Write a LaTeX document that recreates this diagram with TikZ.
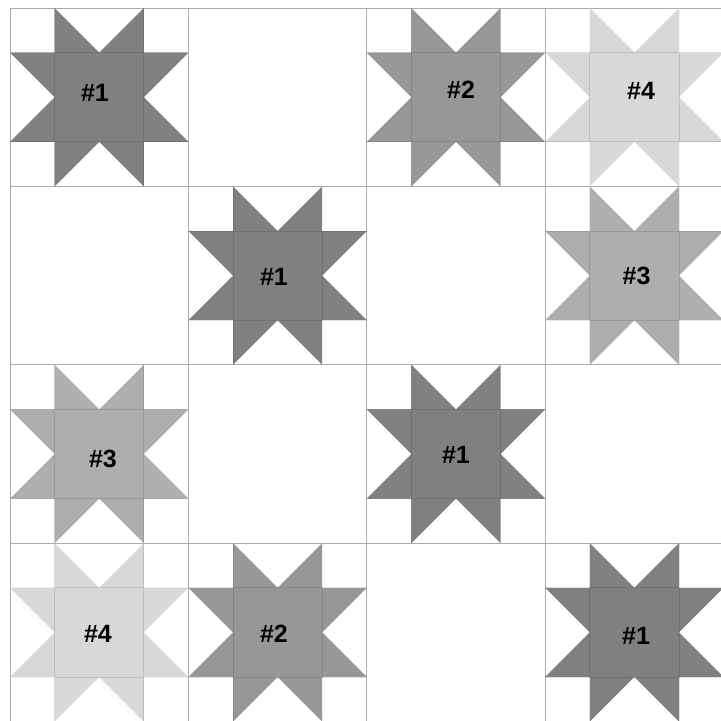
\documentclass[tikz,border=0pt]{standalone}
\usepackage{fontspec}
\setmainfont{Liberation Sans}
\definecolor{cA}{RGB}{128,128,128}
\definecolor{cB}{RGB}{151,151,151}
\definecolor{cC}{RGB}{174,174,174}
\definecolor{cD}{RGB}{216,216,216}
\definecolor{gridc}{RGB}{172,172,172}
\newcommand\qstar[3]{%
  \begin{scope}[shift={(10+#1*178.4,8+#2*178.4)}, x=44.6pt, y=-44.6pt]
    \path[fill=#3] (1,0)--(2,1)--(3,0)--(3,1)--(4,1)--(3,2)--(4,3)--(3,3)--(3,4)--(2,3)--(1,4)--(1,3)--(0,3)--(1,2)--(0,1)--(1,1)--cycle;
    \begin{scope}
      \clip (1,0)--(2,1)--(3,0)--(3,1)--(4,1)--(3,2)--(4,3)--(3,3)--(3,4)--(2,3)--(1,4)--(1,3)--(0,3)--(1,2)--(0,1)--(1,1)--cycle;
      \draw[#3!88!black, line width=0.8pt] (1,0)--(1,4) (3,0)--(3,4) (0,1)--(4,1) (0,3)--(4,3);
    \end{scope}
  \end{scope}}
\tikzset{lbl/.style={font=\bfseries\fontsize{25}{30}\selectfont, text=black, inner sep=0pt}}
\begin{document}
\begin{tikzpicture}[x=1pt, y=-1pt]
  \useasboundingbox (0,0) rectangle (721,721);
  \clip (0,0) rectangle (721,721);
  \fill[white] (0,0) rectangle (721,721);
  % grid
  \foreach \i in {0,1,2,3} {
    \draw[gridc, line width=0.8pt] (10+\i*178.4,8) -- (10+\i*178.4,721);
    \draw[gridc, line width=0.8pt] (10,8+\i*178.4) -- (721,8+\i*178.4);
  }
  % stars: col,row,color
  \qstar{0}{0}{cA}
  \qstar{2}{0}{cB}
  \qstar{3}{0}{cD}
  \qstar{1}{1}{cA}
  \qstar{3}{1}{cC}
  \qstar{0}{2}{cC}
  \qstar{2}{2}{cA}
  \qstar{0}{3}{cD}
  \qstar{1}{3}{cB}
  \qstar{3}{3}{cA}
  % labels
  \node[lbl] (s11) at (95,92.5) {\#1};
  \node[lbl] (s13) at (461,90) {\#2};
  \node[lbl] (s14) at (641,90.5) {\#4};
  \node[lbl] (s22) at (274,277) {\#1};
  \node[lbl] (s24) at (636.5,276) {\#3};
  \node[lbl] (s31) at (103,459) {\#3};
  \node[lbl] (s33) at (456,455) {\#1};
  \node[lbl] (s41) at (98,634) {\#4};
  \node[lbl] (s42) at (274,634) {\#2};
  \node[lbl] (s44) at (636,635.5) {\#1};
\end{tikzpicture}
\end{document}
